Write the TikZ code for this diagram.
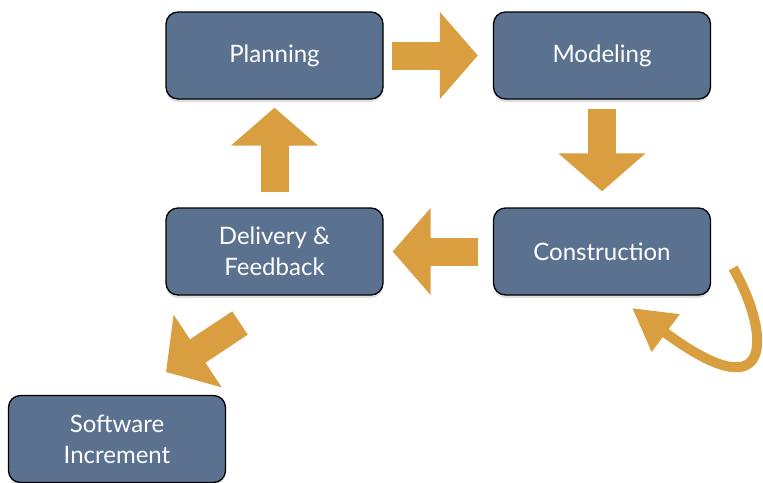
\documentclass[tikz,border=0pt]{standalone}
\usepackage{fontspec}
\setmainfont{Lato}
\usetikzlibrary{arrows.meta,shadows}
\definecolor{stepblue}{RGB}{90,114,144}
\definecolor{flowgold}{RGB}{216,158,64}

\begin{document}
\begin{tikzpicture}[x=1pt,y=-1pt,
    phase/.style={draw=black, line width=1.3pt, rounded corners=12pt, fill=stepblue,
      minimum width=217pt, minimum height=87pt, inner sep=0pt, text=white,
      font=\fontsize{24}{31}\selectfont, align=center,
      drop shadow={shadow xshift=0pt, shadow yshift=-3pt, opacity=0.25}},
    flow/.style={draw=flowgold, line width=28pt, -{Triangle[length=38pt,width=85pt]}}]
    \useasboundingbox (0,0) rectangle (763,482);

    % Process steps
    \node[phase] (plan) at (274.5,55.5) {Planning};
    \node[phase] (model) at (602,55.5) {Modeling};
    \node[phase] (constr) at (602,251.5) {Construction};
    \node[phase] (deliv) at (274.5,251.5) {Delivery \&\\Feedback};
    \node[phase] (soft) at (117,439) {Software\\Increment};

    % Big arrows round the cycle
    \draw[flow, shorten <=8pt, shorten >=15pt] (plan.east) -- (model.west);
    \draw[flow, shorten <=9pt, shorten >=16pt] (model.south) -- (constr.north);
    \draw[flow, shorten <=15pt, shorten >=9pt] (constr.west) -- (deliv.east);
    \draw[flow, shorten <=15pt, shorten >=8pt] (deliv.north) -- (plan.south);

    % Out to the increment
    \coordinate (dtail) at (240,323);
    \coordinate (dtip) at (166,372);
    \draw[flow] (dtail) -- (dtip);

    % Loop back into construction
    \coordinate (loopout) at (733,268);
    \coordinate (loopin) at (632,308);
    \draw[draw=flowgold, line width=10pt, -{Triangle[length=42pt,width=44pt]}]
        (loopout) .. controls (768,328) and (780,418) .. (loopin);
\end{tikzpicture}
\end{document}
